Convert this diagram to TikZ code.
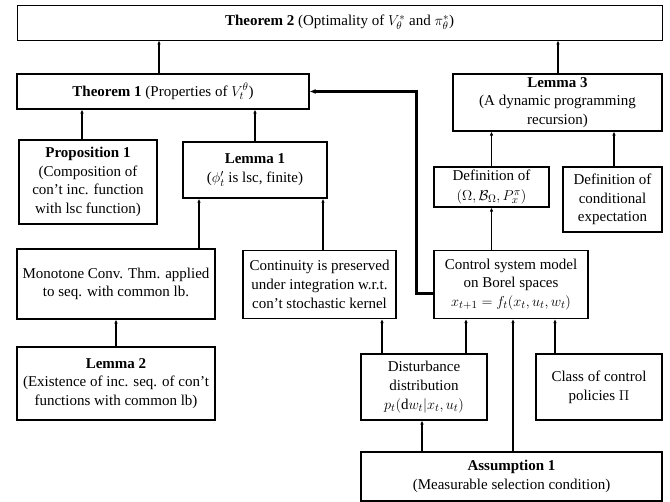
\documentclass[tikz,border=0pt]{standalone}
\usepackage{fontspec}
\setmainfont{Liberation Serif}
\usetikzlibrary{arrows.meta}
\begin{document}
\begin{tikzpicture}[x=1pt,y=1pt,
	box/.style={draw,line width=0.9pt,align=center,inner sep=0,font=\fontsize{15}{18.7}\selectfont},
	keybox/.style={box,line width=1.5pt},
	arr/.style={arrows={-Latex[length=4pt,width=3.5pt]},line width=1.3pt},
	bigarr/.style={arrows={-Latex[length=6pt,width=5pt]},line width=2.2pt}]
		\useasboundingbox (0,0) rectangle (670,502);
		% Top row
		\node [box,minimum width=645,minimum height=35] (thmtwo) at (339.5,479.5) {\textbf{Theorem 2} (Optimality of $V_\theta^*$ and $\pi_\theta^*$)};
		\node [box,line width=1.1pt,minimum width=292,minimum height=35] (thmone) at (163,410.5) {\textbf{Theorem 1} (Properties of $V_t^\theta$)};
		\node [box,line width=1.1pt,minimum width=209,minimum height=57] (lemthree) at (557.5,399.5) {\textbf{Lemma 3}\\(A dynamic programming\\recursion)};
		% Second row
		\node [keybox,minimum width=138,minimum height=84] (propone) at (88,320) {\textbf{Proposition 1}\\(Composition of\\con’t inc. function\\with lsc function)};
		\node [keybox,minimum width=144,minimum height=56] (lemone) at (255,332) {\textbf{Lemma 1}\\($\phi_t'$ is lsc, finite)};
		\node [box,line width=1.1pt,minimum width=115,minimum height=40] (defomega) at (491.5,315) {Definition of\\[1pt]$(\Omega,\mathcal{B}_\Omega,P_x^\pi)$};
		\node [box,line width=1.1pt,minimum width=99,minimum height=65] (defcond) at (612.5,302.5) {Definition of\\conditional\\expectation};
		% Third row
		\node [box,line width=1.1pt,minimum width=198,minimum height=70] (monotone) at (116,218) {Monotone Conv. Thm. applied\\to seq. with common lb.};
		\node [box,line width=1.1pt,minimum width=153,minimum height=68] (contin) at (319.5,217.5) {Continuity is preserved\\under integration w.r.t.\\con’t stochastic kernel};
		\node [box,line width=1.1pt,minimum width=154,minimum height=68] (control) at (511,217.5) {Control system model\\on Borel spaces\\$x_{t+1}=f_t(x_t,u_t,w_t)$};
		% Bottom rows
		\node [keybox,minimum width=198,minimum height=73] (lemtwo) at (116,118.5) {\textbf{Lemma 2}\\(Existence of inc. seq. of con’t\\functions with common lb)};
		\node [box,line width=1.1pt,minimum width=126,minimum height=66] (disturb) at (424,115) {Disturbance\\distribution\\$p_t(\mathrm{d}w_t|x_t,u_t)$};
		\node [box,line width=1.1pt,minimum width=126,minimum height=66] (policy) at (599,115) {Class of control\\policies $\Pi$};
		\node [keybox,minimum width=301,minimum height=49] (assume) at (511.5,25.5) {\textbf{Assumption 1}\\(Measurable selection condition)};
		% Arrows
		\draw [arr] (thmone.north -| 159,0) -- (thmtwo.south -| 159,0);
		\draw [arr] (lemthree.north -| 558,0) -- (thmtwo.south -| 558,0);
		\draw [arr] (propone.north -| 82,0) -- (thmone.south -| 82,0);
		\draw [arr] (lemone.north) -- (thmone.south -| lemone.north);
		\draw [arr] (monotone.north -| 199,0) -- (lemone.south -| 199,0);
		\draw [arr] (contin.north -| 323,0) -- (lemone.south -| 323,0);
		\draw [arr] (lemtwo.north) -- (monotone.south);
		\draw [arr] (defomega.north) -- (lemthree.south -| defomega.north);
		\draw [arr] (defcond.north -| 614,0) -- (lemthree.south -| 614,0);
		\draw [arr] (control.north -| defomega.south) -- (defomega.south);
		\draw [bigarr] ([yshift=-9pt]control.west) -- ++(-17,0) |- (thmone.east);
		\draw [arr] (disturb.north -| 382,0) -- (contin.south -| 382,0);
		\draw [arr] (disturb.north -| 466,0) -- (control.south -| 466,0);
		\draw [arr] (assume.north -| 513,0) -- (control.south -| 513,0);
		\draw [arr] (policy.north -| 555,0) -- (control.south -| 555,0);
		\draw [arr] (assume.north -| 422,0) -- (disturb.south -| 422,0);
	\end{tikzpicture}
\end{document}
